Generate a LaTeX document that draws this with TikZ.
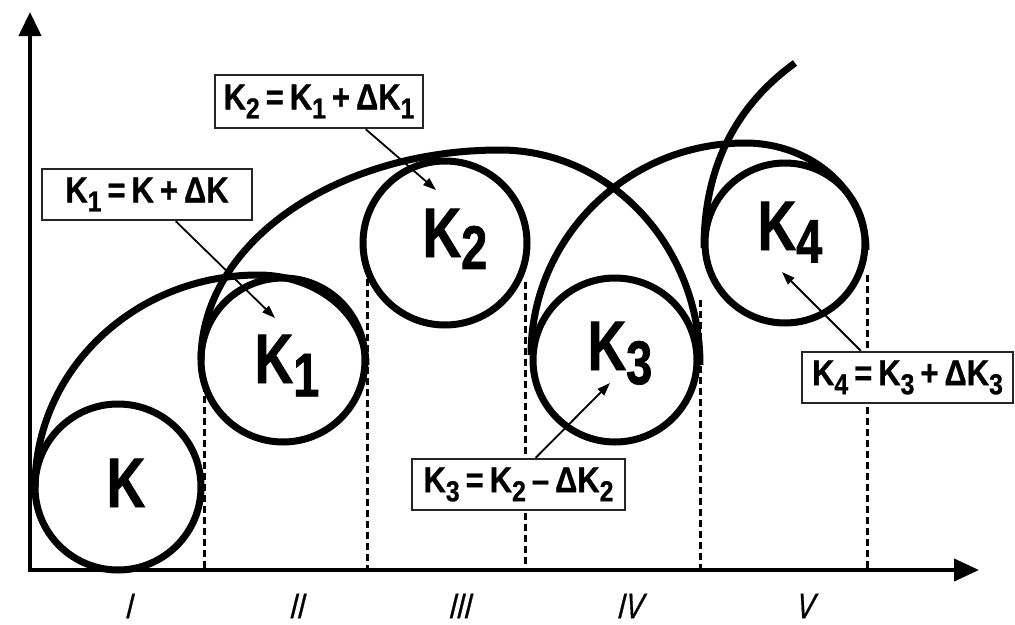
\documentclass[tikz,border=0pt]{standalone}
\usepackage{fontspec}
\usepackage{graphicx}
\setmainfont{Liberation Sans}
\newfontfamily\bigfont{Liberation Sans}[FakeStretch=0.76,FakeBold=1.2]
\newfontfamily\boxfont{Liberation Sans}[FakeStretch=0.86,FakeBold=0.8]
\newfontfamily\numfont{Liberation Sans}[FakeStretch=0.75,FakeSlant=0.1,FakeBold=0.6]
\usetikzlibrary{arrows.meta}
\newcommand\ksub[3]{\raisebox{-#2}{\scalebox{#1}{#3}}}
\begin{document}
\begin{tikzpicture}[x=1pt,y=-1pt,
  ring/.style={draw, circle, line width=7pt, inner sep=0pt},
  curve/.style={line width=7pt},
  guide/.style={line width=3pt, dash pattern=on 7pt off 4pt},
  axis/.style={line width=4pt},
  eqbox/.style={draw=black!85, line width=2.5pt, fill=white, minimum width=210pt, minimum height=51pt, inner sep=0pt, font=\boxfont\bfseries\fontsize{36}{36}\selectfont},
  ptr/.style={line width=1.8pt, -{Triangle[length=13pt,width=9pt]}},
  big/.style={font=\bigfont\bfseries\fontsize{70}{70}\selectfont, inner sep=0pt, anchor=base},
  roman/.style={font=\numfont\itshape\fontsize{36}{36}\selectfont, inner sep=0pt}
]
\useasboundingbox (0,0) rectangle (1015,624);
\fill[white] (0,0) rectangle (1015,624);

% axes
\coordinate (ytop) at (30,12);
\coordinate (xend) at (979,570);
\draw[axis, {Triangle[length=24pt,width=22pt]}-{Triangle[length=25pt,width=22pt]}] (ytop) |- (xend);

% dashed guides
\draw[guide] (204,385) -- (204,570);
\draw[guide] (367,268) -- (367,570);
\draw[guide] (525,282) -- (525,570);
\draw[guide] (700,300) -- (700,570);
\draw[guide] (867,275) -- (867,570);

% circles
\node[ring, minimum size=166pt] (cK) at (118,487) {};
\node[ring, minimum size=164pt] (cK1) at (283,360) {};
\node[ring, minimum size=164pt] (cK2) at (445,243) {};
\node[ring, minimum size=164pt] (cK3) at (615,360) {};
\node[ring, minimum size=160pt] (cK4) at (785,243) {};

% big arcs
\draw[curve] (35,487) .. controls (35,370) and (135,275) .. (258,275)
             .. controls (318,275) and (366,315) .. (366,365);
\draw[curve] (201,360) .. controls (201,244) and (335,150) .. (500,150)
             .. controls (610,150) and (700,246) .. (700,365);
\draw[curve] (531,355) .. controls (531,238) and (627,143) .. (745,143)
             .. controls (812,143) and (866,191) .. (866,250);
\draw[curve] (704,248) .. controls (704,175) and (730,110) .. (795,63);

% circle labels
\node[big] (lK) at (126,507) {K};
\node[big] (lK1) at (287,383) {K\ksub{0.88}{0.19em}{1}};
\node[big] (lK2) at (455,257) {K\ksub{0.88}{0.17em}{2}};
\node[big] (lK3) at (620,370) {K\ksub{0.88}{0.2em}{3}};
\node[big] (lK4) at (790,250) {K\ksub{0.88}{0.18em}{4}};

% formula boxes
\node[eqbox] (b1) at (147,194.5) {K\ksub{0.8}{0.25em}{1}\,=\,K\,+\,ΔK};
\node[eqbox, minimum width=208pt, minimum height=53pt] (b2) at (319,101.5) {K\ksub{0.8}{0.25em}{2}\,=\,K\ksub{0.8}{0.25em}{1}\,+\,ΔK\ksub{0.8}{0.25em}{1}};
\node[eqbox, minimum width=213pt] (b3) at (518.5,484.5) {K\ksub{0.8}{0.25em}{3}\,=\,K\ksub{0.8}{0.25em}{2}\,–\,ΔK\ksub{0.8}{0.25em}{2}};
\node[eqbox, minimum width=211pt] (b4) at (907.5,377.5) {K\ksub{0.8}{0.25em}{4}\,=\,K\ksub{0.8}{0.25em}{3}\,+\,ΔK\ksub{0.8}{0.25em}{3}};

% pointers
\coordinate (t1) at (275,318);
\coordinate (t2) at (436,190);
\coordinate (t3) at (610,383);
\coordinate (t4) at (782,272);
\draw[ptr] ([xshift=135pt]b1.south west) -- (t1);
\draw[ptr] ([xshift=152pt]b2.south west) -- (t2);
\draw[ptr] ([xshift=125pt]b3.north west) -- (t3);
\draw[ptr] ([xshift=60pt]b4.north west) -- (t4);

% interval numerals
\node[roman] (r1) at (129,606) {I};
\node[roman] (r2) at (297,606) {II};
\node[roman] (r3) at (460,606) {III};
\node[roman] (r4) at (630,606) {IV};
\node[roman] (r5) at (805,606) {V};
\end{tikzpicture}
\end{document}
